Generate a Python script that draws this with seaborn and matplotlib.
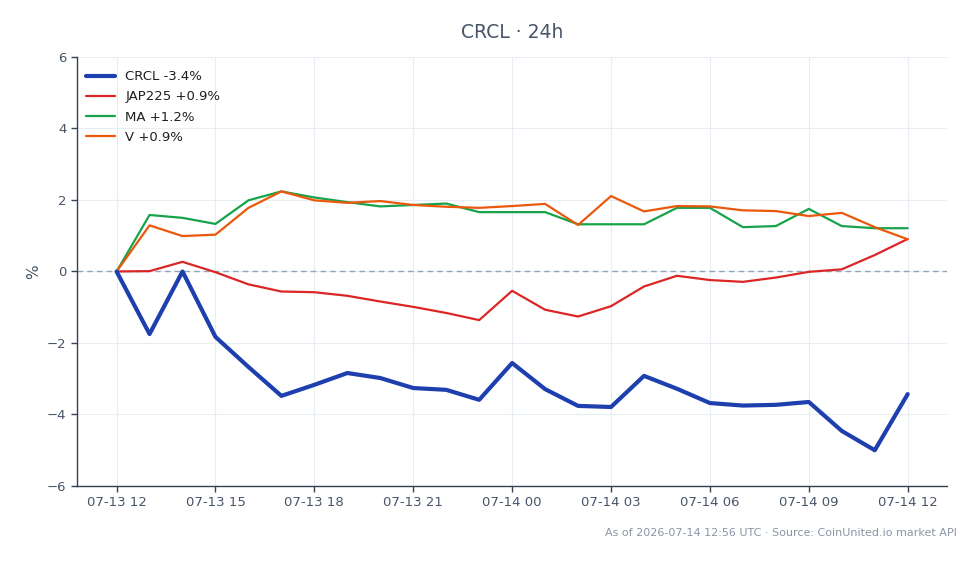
import numpy as np
import pandas as pd
import matplotlib
matplotlib.use("Agg")
import matplotlib.pyplot as plt
import matplotlib.dates as mdates
import seaborn as sns

times = pd.date_range("2026-07-13 12:00", "2026-07-14 12:00", freq="h")

crcl = [0.0, -1.75, 0.0, -1.83, -2.67, -3.48, -3.17, -2.84, -2.98, -3.26, -3.31, -3.59,
        -2.56, -3.29, -3.76, -3.79, -2.92, -3.28, -3.68, -3.75, -3.73, -3.65, -4.46, -5.0, -3.43]
jap225 = [0.0, 0.01, 0.27, -0.02, -0.36, -0.56, -0.58, -0.68, -0.84, -0.99, -1.16, -1.36,
          -0.54, -1.07, -1.26, -0.97, -0.42, -0.12, -0.24, -0.29, -0.17, -0.01, 0.06, 0.46, 0.91]
ma = [0.0, 1.58, 1.50, 1.33, 1.99, 2.24, 2.07, 1.94, 1.82, 1.86, 1.90, 1.66,
      1.66, 1.66, 1.32, 1.32, 1.32, 1.78, 1.78, 1.24, 1.27, 1.75, 1.27, 1.21, 1.21]
v = [0.0, 1.29, 0.99, 1.03, 1.78, 2.24, 1.99, 1.92, 1.97, 1.86, 1.81, 1.78,
     1.83, 1.89, 1.30, 2.11, 1.68, 1.83, 1.82, 1.71, 1.69, 1.55, 1.64, 1.24, 0.90]

labels = ["CRCL -3.4%", "JAP225 +0.9%", "MA +1.2%", "V +0.9%"]
colors = ["#1e40af", "#dc2626", "#16a34a", "#ea580c"]
widths = [3.0, 1.6, 1.6, 1.6]

df = pd.concat([
    pd.DataFrame({"time": times, "pct": vals, "series": lab})
    for lab, vals in zip(labels, [crcl, jap225, ma, v])
])

sns.set_theme(style="white")
plt.rcParams["font.family"] = ["DejaVu Sans"]

text_c = "#475569"
fig = plt.figure(figsize=(9.8, 5.64), dpi=100)
ax = fig.add_axes([0.0786, 0.1383, 0.888, 0.7607])

ax.axhline(0, color="#94a3b8", lw=1.0, ls=(0, (4, 3)), zorder=1)
for lab, col, lw in zip(labels, colors, widths):
    sns.lineplot(data=df[df["series"] == lab], x="time", y="pct", color=col, lw=lw,
                 label=lab, ax=ax, zorder=3 if lab.startswith("CRCL") else 2)

ax.set_ylim(-6, 6)
ax.set_yticks([-6, -4, -2, 0, 2, 4, 6])
ax.set_yticklabels(["\u22126", "\u22124", "\u22122", "0", "2", "4", "6"])
ax.xaxis.set_major_locator(mdates.HourLocator(byhour=[0, 3, 6, 9, 12, 15, 18, 21]))
ax.xaxis.set_major_formatter(mdates.DateFormatter("%m-%d %H"))
ax.set_xlim(times[0] - pd.Timedelta(hours=1.2), times[-1] + pd.Timedelta(hours=1.2))

ax.grid(True, color="#e8edf3", lw=0.8)
ax.set_axisbelow(True)
for s in ["top", "right"]:
    ax.spines[s].set_visible(False)
for s in ["left", "bottom"]:
    ax.spines[s].set_color("#334155")
    ax.spines[s].set_linewidth(1.0)
ax.tick_params(axis="both", which="both", direction="out", length=4, width=1,
               color="#334155", labelcolor=text_c, labelsize=9.5, left=True, bottom=True)
ax.set_xlabel("")
ax.set_ylabel("%", color=text_c, fontsize=11)

ax.set_title("CRCL \u00b7 24h", color="#475569", fontsize=13.5, pad=14)
leg = ax.legend(loc="upper left", bbox_to_anchor=(-0.005, 1.0), frameon=False,
                fontsize=9.5, handlelength=2.2, borderaxespad=0.6, labelspacing=0.55,
                labelcolor="#1f1f1f")

fig.text(0.976, 0.055, "As of 2026-07-14 12:56 UTC \u00b7 Source: CoinUnited.io market API",
         ha="right", va="center", fontsize=8, color="#8b95a5")

fig.savefig("out.png", dpi=100)
